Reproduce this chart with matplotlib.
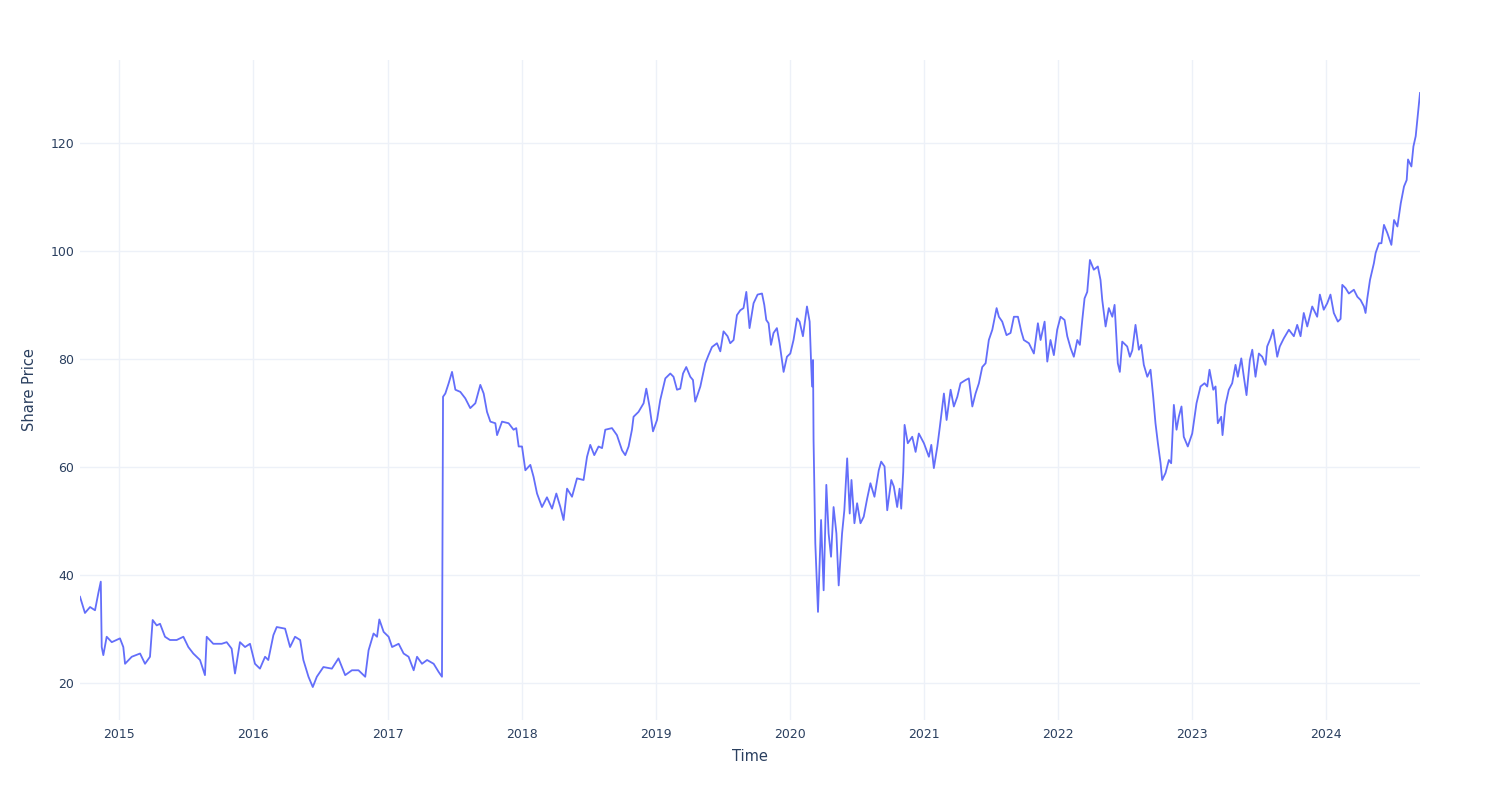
import matplotlib
matplotlib.use("Agg")
import matplotlib.pyplot as plt
import matplotlib.dates as mdates
import pandas as pd

# time as decimal years
t_dec = [
    2014.709, 2014.746, 2014.784, 2014.821, 2014.846, 2014.864, 2014.871, 2014.883, 2014.908, 2014.946,
    2015.007, 2015.032, 2015.045, 2015.095, 2015.157, 2015.194, 2015.231, 2015.251, 2015.281, 2015.306,
    2015.343, 2015.380, 2015.430, 2015.480, 2015.517, 2015.554, 2015.604, 2015.641, 2015.654, 2015.703,
    2015.766, 2015.803, 2015.840, 2015.865, 2015.902, 2015.940, 2015.977, 2016.014, 2016.051, 2016.089,
    2016.113, 2016.151, 2016.176, 2016.238, 2016.275, 2016.312, 2016.350, 2016.374, 2016.412, 2016.444,
    2016.474, 2016.523, 2016.586, 2016.635, 2016.685, 2016.735, 2016.784, 2016.834, 2016.859, 2016.896,
    2016.922, 2016.939, 2016.971, 2017.008, 2017.034, 2017.083, 2017.120, 2017.157, 2017.195, 2017.220,
    2017.257, 2017.295, 2017.344, 2017.381, 2017.406, 2017.410, 2017.414, 2017.431, 2017.456, 2017.481,
    2017.506, 2017.543, 2017.580, 2017.617, 2017.655, 2017.692, 2017.717, 2017.742, 2017.767, 2017.804,
    2017.817, 2017.854, 2017.903, 2017.940, 2017.960, 2017.978, 2018.003, 2018.028, 2018.065, 2018.089,
    2018.115, 2018.152, 2018.189, 2018.227, 2018.259, 2018.289, 2018.313, 2018.339, 2018.376, 2018.413,
    2018.462, 2018.488, 2018.512, 2018.542, 2018.574, 2018.600, 2018.624, 2018.674, 2018.711, 2018.749,
    2018.773, 2018.798, 2018.823, 2018.835, 2018.872, 2018.910, 2018.930, 2018.954, 2018.980, 2019.010,
    2019.034, 2019.072, 2019.109, 2019.133, 2019.159, 2019.183, 2019.204, 2019.228, 2019.258, 2019.278,
    2019.295, 2019.333, 2019.370, 2019.394, 2019.420, 2019.457, 2019.482, 2019.506, 2019.536, 2019.556,
    2019.581, 2019.606, 2019.631, 2019.655, 2019.676, 2019.700, 2019.730, 2019.760, 2019.793, 2019.810,
    2019.825, 2019.842, 2019.860, 2019.879, 2019.904, 2019.924, 2019.954, 2019.979, 2020.004, 2020.028,
    2020.054, 2020.073, 2020.098, 2020.128, 2020.148, 2020.158, 2020.166, 2020.173, 2020.177, 2020.190,
    2020.210, 2020.233, 2020.252, 2020.272, 2020.289, 2020.307, 2020.326, 2020.347, 2020.364, 2020.389,
    2020.406, 2020.427, 2020.446, 2020.459, 2020.481, 2020.501, 2020.526, 2020.550, 2020.576, 2020.600,
    2020.630, 2020.662, 2020.680, 2020.705, 2020.725, 2020.755, 2020.774, 2020.799, 2020.817, 2020.829,
    2020.844, 2020.854, 2020.878, 2020.911, 2020.936, 2020.960, 2020.998, 2021.035, 2021.053, 2021.072,
    2021.098, 2021.117, 2021.147, 2021.167, 2021.197, 2021.221, 2021.247, 2021.271, 2021.309, 2021.333,
    2021.359, 2021.383, 2021.408, 2021.433, 2021.458, 2021.482, 2021.508, 2021.540, 2021.557, 2021.582,
    2021.614, 2021.644, 2021.669, 2021.699, 2021.724, 2021.743, 2021.781, 2021.818, 2021.848, 2021.868,
    2021.898, 2021.918, 2021.942, 2021.967, 2021.992, 2022.017, 2022.047, 2022.067, 2022.092, 2022.116,
    2022.142, 2022.161, 2022.179, 2022.196, 2022.216, 2022.236, 2022.265, 2022.295, 2022.315, 2022.328,
    2022.353, 2022.377, 2022.403, 2022.420, 2022.444, 2022.459, 2022.477, 2022.514, 2022.534, 2022.552,
    2022.576, 2022.601, 2022.619, 2022.638, 2022.664, 2022.688, 2022.708, 2022.725, 2022.743, 2022.763,
    2022.775, 2022.800, 2022.825, 2022.842, 2022.862, 2022.882, 2022.899, 2022.919, 2022.936, 2022.966,
    2022.999, 2023.031, 2023.061, 2023.091, 2023.111, 2023.128, 2023.156, 2023.173, 2023.190, 2023.215,
    2023.225, 2023.247, 2023.272, 2023.297, 2023.322, 2023.339, 2023.365, 2023.384, 2023.404, 2023.429,
    2023.447, 2023.471, 2023.496, 2023.521, 2023.546, 2023.558, 2023.583, 2023.603, 2023.633, 2023.652,
    2023.682, 2023.720, 2023.757, 2023.782, 2023.807, 2023.831, 2023.857, 2023.894, 2023.931, 2023.951,
    2023.980, 2024.006, 2024.030, 2024.055, 2024.085, 2024.105, 2024.118, 2024.142, 2024.167, 2024.204,
    2024.230, 2024.254, 2024.279, 2024.291, 2024.304, 2024.324, 2024.353, 2024.366, 2024.391, 2024.409,
    2024.428, 2024.453, 2024.483, 2024.503, 2024.528, 2024.553, 2024.577, 2024.597, 2024.607, 2024.632,
    2024.647, 2024.664, 2024.681, 2024.696,
]

price = [
    36.0, 33.0, 34.1, 33.5, 36.7, 38.8, 26.7, 25.2, 28.6, 27.6,
    28.3, 26.7, 23.6, 24.9, 25.5, 23.6, 24.9, 31.7, 30.7, 31.0,
    28.6, 28.0, 28.0, 28.6, 26.7, 25.5, 24.3, 21.5, 28.6, 27.3,
    27.3, 27.6, 26.4, 21.8, 27.6, 26.7, 27.3, 23.6, 22.7, 24.9,
    24.3, 28.9, 30.4, 30.1, 26.7, 28.6, 28.0, 24.3, 21.2, 19.3,
    21.2, 23.0, 22.7, 24.6, 21.5, 22.4, 22.4, 21.2, 26.1, 29.2,
    28.6, 31.8, 29.5, 28.6, 26.7, 27.3, 25.5, 24.9, 22.4, 24.9,
    23.6, 24.3, 23.6, 22.1, 21.2, 47.0, 73.0, 73.6, 75.5, 77.6,
    74.3, 73.9, 72.7, 70.9, 71.8, 75.2, 73.6, 70.2, 68.4, 68.1,
    65.9, 68.4, 68.1, 66.9, 67.2, 63.8, 63.8, 59.4, 60.4, 58.2,
    55.1, 52.6, 54.4, 52.3, 55.1, 52.6, 50.2, 56.0, 54.5, 57.9,
    57.6, 61.9, 64.1, 62.2, 63.8, 63.5, 66.9, 67.2, 65.9, 63.1,
    62.2, 63.8, 66.9, 69.3, 70.2, 71.8, 74.5, 71.2, 66.6, 68.7,
    72.4, 76.4, 77.3, 76.7, 74.3, 74.5, 77.3, 78.5, 76.7, 76.1,
    72.1, 74.9, 79.2, 80.7, 82.2, 82.9, 81.4, 85.1, 84.2, 82.9,
    83.5, 88.1, 89.0, 89.4, 92.4, 85.7, 90.3, 91.9, 92.1, 90.0,
    87.2, 86.6, 82.6, 84.8, 85.7, 82.9, 77.6, 80.4, 81.0, 83.5,
    87.5, 86.9, 84.2, 89.7, 86.9, 79.8, 74.9, 79.8, 65.0, 45.9,
    33.2, 50.2, 37.2, 56.7, 47.7, 43.4, 52.6, 47.7, 38.1, 47.7,
    52.0, 61.6, 51.4, 57.6, 49.6, 53.3, 49.6, 50.8, 54.2, 57.0,
    54.5, 59.4, 61.0, 60.1, 52.0, 57.6, 56.4, 52.6, 56.0, 52.3,
    59.1, 67.8, 64.4, 65.6, 62.8, 66.2, 64.4, 61.9, 64.1, 59.8,
    63.8, 67.5, 73.6, 68.7, 74.3, 71.2, 73.0, 75.5, 76.1, 76.4,
    71.2, 73.6, 75.5, 78.5, 79.2, 83.5, 85.4, 89.4, 87.8, 86.9,
    84.4, 84.8, 87.8, 87.8, 85.1, 83.5, 82.9, 81.0, 86.6, 83.5,
    86.9, 79.5, 83.5, 80.7, 85.4, 87.8, 87.2, 84.2, 82.0, 80.4,
    83.5, 82.6, 87.2, 91.2, 92.4, 98.3, 96.5, 97.1, 94.6, 90.9,
    86.0, 89.4, 87.8, 90.0, 79.2, 77.6, 83.2, 82.3, 80.4, 81.6,
    86.3, 81.7, 82.6, 78.9, 76.7, 78.0, 73.0, 68.1, 64.4, 60.7,
    57.6, 58.9, 61.3, 60.7, 71.5, 66.9, 69.3, 71.2, 65.6, 63.8,
    66.2, 71.8, 74.9, 75.5, 74.9, 78.0, 74.3, 74.9, 68.1, 69.3,
    65.9, 71.5, 74.3, 75.5, 78.9, 76.7, 80.1, 76.7, 73.3, 79.8,
    81.7, 76.7, 81.0, 80.4, 78.9, 82.3, 83.8, 85.4, 80.4, 82.3,
    83.8, 85.4, 84.2, 86.3, 84.2, 88.5, 86.0, 89.7, 87.8, 91.9,
    89.1, 90.3, 91.9, 88.5, 86.9, 87.4, 93.7, 93.1, 92.1, 92.8,
    91.5, 90.9, 89.7, 88.5, 91.2, 94.6, 97.7, 99.6, 101.4, 101.4,
    104.8, 103.3, 101.1, 105.7, 104.5, 108.8, 111.9, 113.1, 116.9, 115.6,
    119.3, 121.2, 125.5, 129.2,
]

y_ticks = [20, 40, 60, 80, 100, 120]


def to_datetime(dec):
    year = int(dec)
    start = pd.Timestamp(year=year, month=1, day=1)
    end = pd.Timestamp(year=year + 1, month=1, day=1)
    return start + (end - start) * (dec - year)


dates = [to_datetime(d) for d in t_dec]

text_col = "#2a3f5f"
grid_col = "#EDF1F8"

fig = plt.figure(figsize=(15, 8), dpi=100)
ax = fig.add_axes([80 / 1500, 80 / 800, 1340 / 1500, 660 / 800])

ax.plot(dates, price, color="#636EFA", linewidth=1.3, solid_joinstyle="round")

ax.set_xlim(dates[0], dates[-1])
ax.set_ylim(13.2, 135.3)
ax.set_yticks(y_ticks)
ax.xaxis.set_major_locator(mdates.YearLocator())
ax.xaxis.set_major_formatter(mdates.DateFormatter("%Y"))

for s in ax.spines.values():
    s.set_visible(False)
ax.grid(True, color=grid_col, linewidth=1)
ax.set_axisbelow(True)
ax.tick_params(length=0, labelsize=9, colors=text_col)
ax.tick_params(axis="x", pad=6)
ax.tick_params(axis="y", pad=4)

ax.set_xlabel("Time", fontsize=10.5, color=text_col, labelpad=5.5)
ax.set_ylabel("Share Price", fontsize=10.5, color=text_col, labelpad=10)

fig.savefig("out.png", dpi=100)
